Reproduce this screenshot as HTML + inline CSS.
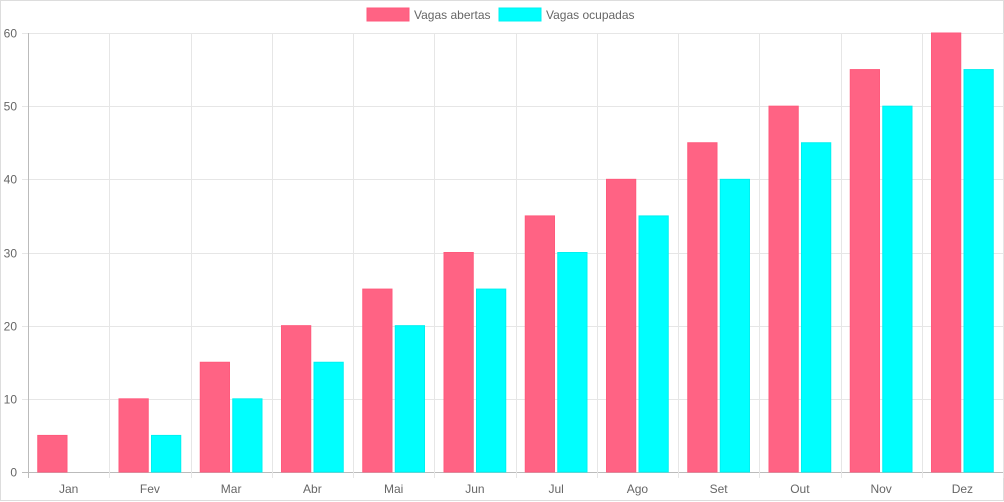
<!DOCTYPE html>
<html><head><meta charset="utf-8"><style>
html,body{margin:0;padding:0;background:#fff}
#wrap{position:relative;width:1004px;height:502px;overflow:hidden}
svg{display:block}
svg text{font-family:"Liberation Sans",sans-serif;font-size:12px;fill:#666}
</style></head><body>
<div id="wrap">
<svg id="chart" width="1004" height="502"></svg>
</div>
<script>
const categories=["Jan","Fev","Mar","Abr","Mai","Jun","Jul","Ago","Set","Out","Nov","Dez"];
const abertas=[5,10,15,20,25,30,35,40,45,50,55,60];
const ocupadas=[0,5,10,15,20,25,30,35,40,45,50,55];
const yTicks=[0,10,20,30,40,50,60];
const seriesNames=["Vagas abertas","Vagas ocupadas"];
const colors=["#ff6384","#00ffff"];
const borders=["#ff5a7c","#00f0f0"];
const NS="http://www.w3.org/2000/svg";
const svg=document.getElementById('chart');
const L=28,R=1003,T=33,B=472,yMax=60;
const cw=(R-L)/categories.length;
const y=v=>B-(v/yMax)*(B-T);
const xc=i=>L+cw*(i+0.5);
function mk(t,a){const e=document.createElementNS(NS,t);for(const k in a)e.setAttribute(k,a[k]);svg.appendChild(e);return e;}
const fr=mk('rect',{x:0.5,y:0.5,width:1003,height:500,fill:'none',stroke:'#ddd'});


yTicks.forEach(v=>{
  const yy=Math.round(y(v))+0.5;
  const g=mk('line',{x1:22,x2:R,y1:yy,y2:yy,stroke:v===0?'#bbb':'#e6e6e6'});
  
  
  const t=mk('text',{x:17,y:yy+4,'text-anchor':'end'});t.textContent=v;
  
  
});
for(let i=0;i<=categories.length;i++){
  const xx=Math.round(L+cw*i)+0.5;
  const g=mk('line',{x1:xx,x2:xx,y1:T,y2:478,stroke:i===0?'#bbb':'#e6e6e6'});
  
  
}
const bw=cw*0.8*0.9/2, slot=cw*0.8/2;
categories.forEach((c,i)=>{
  [abertas,ocupadas].forEach((s,k)=>{
    const v=s[i]; if(!v) return;
    const x0=xc(i)-cw*0.4+slot*k+(slot-bw)/2;
    const r=mk('rect',{x:x0,y:y(v),width:bw,height:B-y(v),fill:colors[k],stroke:borders[k],'stroke-width':1});
    
    
  });
  const t=mk('text',{x:xc(i),y:493,'text-anchor':'middle'});t.textContent=c;
  
  
});
const lx=[367,499];
seriesNames.forEach((n,k)=>{
  const r=mk('rect',{x:lx[k],y:8,width:42,height:13,fill:colors[k],stroke:borders[k]});
  
  
  const t=mk('text',{x:lx[k]+47,y:19});t.textContent=n;
  
  
});
</script>
</body></html>
